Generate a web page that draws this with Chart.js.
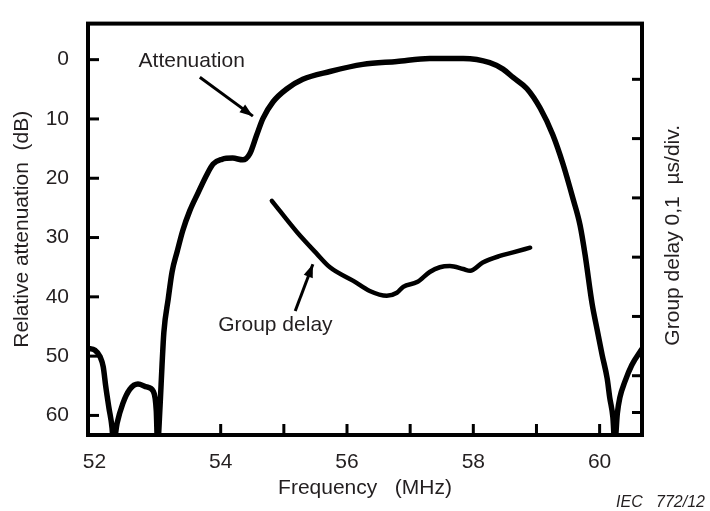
<!DOCTYPE html>
<html><head><meta charset="utf-8">
<script src="https://cdn.jsdelivr.net/npm/chart.js@4.4.1/dist/chart.umd.min.js"></script>
<style>html,body{margin:0;padding:0;background:#fff;}#wrap{width:710px;height:511px;}</style>
</head><body><div id="wrap"><canvas id="c" width="710" height="511"></canvas></div>
<script>
// Attenuation curve (MHz, dB)
const attFreq = [51.90,52.01,52.09,52.14,52.18,52.23,52.28,52.30,52.36,52.45,52.56,52.69,52.83,52.93,52.98,53.00,53.04,53.07,53.10,53.17,53.23,53.31,53.40,53.51,53.64,53.78,53.88,54.02,54.19,54.35,54.46,54.57,54.67,54.83,55.05,55.30,55.73,56.25,56.79,57.31,57.84,58.26,58.47,58.63,58.85,59.06,59.26,59.42,59.58,59.69,59.77,59.88,59.96,60.04,60.12,60.16,60.21,60.24,60.28,60.32,60.40,60.51,60.67];
const attDb   = [48.7,49.0,50.1,51.8,55.1,58.7,62.1,64.9,61.3,58.0,55.6,54.7,55.2,55.9,59.2,64.9,58.4,51.8,46.0,40.3,35.8,32.4,28.8,25.5,22.5,19.4,17.6,16.8,16.6,16.9,15.9,12.7,9.9,7.1,4.9,3.3,2.0,0.8,0.3,-0.2,-0.2,0.5,1.6,3.0,4.9,8.2,12.7,17.6,23.5,27.9,32.9,41.1,45.5,49.8,53.8,57.0,60.3,64.9,59.7,57.0,54.3,51.5,48.8];
// Group delay curve (MHz, microseconds)
const gdFreq  = [54.81,55.21,55.52,55.73,56.10,56.36,56.63,56.79,56.89,57.11,57.31,57.47,57.63,57.84,57.95,58.15,58.42,58.63,58.90];
const gdDelay = [0.395,0.342,0.306,0.283,0.260,0.243,0.235,0.240,0.250,0.258,0.275,0.283,0.285,0.280,0.277,0.291,0.302,0.308,0.316];
// Axis ticks
const xTickValues = [52,53,54,55,56,57,58,59,60];
const xLabelValues = [52,54,56,58,60];
const xMarkValues = [53,54,55,56,57,58,59,60];
const yTickValues = [0,10,20,30,40,50,60];
const y2TickValues = [0.038,0.1,0.2,0.3,0.4,0.5,0.6];

const FONT = '"Liberation Sans", Arial, Helvetica, sans-serif';
const TXT = '#231f20';

function arrow(ctx, x1, y1, x2, y2, head) {
  ctx.beginPath(); ctx.moveTo(x1, y1); ctx.lineTo(x2, y2); ctx.stroke();
  const ang = Math.atan2(y2 - y1, x2 - x1);
  ctx.beginPath();
  ctx.moveTo(x2, y2);
  ctx.lineTo(x2 - head * Math.cos(ang - 0.35), y2 - head * Math.sin(ang - 0.35));
  ctx.lineTo(x2 - head * Math.cos(ang + 0.35), y2 - head * Math.sin(ang + 0.35));
  ctx.closePath(); ctx.fill();
}

const decor = {
  id: 'decor',
  afterDatasetsDraw(chart) {
    const ctx = chart.ctx, a = chart.chartArea;
    const sx = chart.scales.x, sy = chart.scales.y, sy2 = chart.scales.y2;
    ctx.save();
    ctx.strokeStyle = '#000'; ctx.fillStyle = '#000'; ctx.lineCap = 'butt';
    ctx.lineWidth = 3;
    xMarkValues.forEach(v => { const p = sx.getPixelForValue(v); ctx.beginPath(); ctx.moveTo(p, a.bottom); ctx.lineTo(p, a.bottom - 11); ctx.stroke(); });
    yTickValues.forEach(v => { const p = sy.getPixelForValue(v); ctx.beginPath(); ctx.moveTo(a.left, p); ctx.lineTo(a.left + 11, p); ctx.stroke(); });
    y2TickValues.forEach(v => { const p = sy2.getPixelForValue(v); ctx.beginPath(); ctx.moveTo(a.right, p); ctx.lineTo(a.right - 10, p); ctx.stroke(); });
    ctx.lineWidth = 4;
    ctx.strokeRect(a.left, a.top, a.right - a.left, a.bottom - a.top);
    // annotations
    ctx.fillStyle = TXT;
    ctx.font = '21px ' + FONT;
    ctx.textAlign = 'left'; ctx.textBaseline = 'middle';
    ctx.fillText('Attenuation', sx.getPixelForValue(52.70), sy.getPixelForValue(0.3));
    ctx.fillText('Group delay', sx.getPixelForValue(53.96), sy.getPixelForValue(44.7));
    ctx.fillStyle = '#000'; ctx.lineWidth = 3;
    arrow(ctx, sx.getPixelForValue(53.67), sy.getPixelForValue(2.96), sx.getPixelForValue(54.51), sy.getPixelForValue(9.53), 14);
    arrow(ctx, sx.getPixelForValue(55.18), sy.getPixelForValue(42.4), sx.getPixelForValue(55.46), sy.getPixelForValue(34.5), 14);
    // right axis title (reads bottom to top)
    ctx.fillStyle = TXT;
    ctx.save();
    ctx.translate(a.right + 31, (a.top + a.bottom) / 2 + 6);
    ctx.rotate(-Math.PI / 2);
    ctx.textAlign = 'center'; ctx.textBaseline = 'middle';
    ctx.fillText('Group delay 0,1  \u00b5s/div.', 0, 0);
    ctx.restore();
    // figure reference
    ctx.font = 'italic 16px ' + FONT;
    ctx.textAlign = 'right'; ctx.textBaseline = 'alphabetic';
    ctx.fillText('IEC   772/12', chart.width - 5, chart.height - 4);
    ctx.restore();
  }
};

new Chart(document.getElementById('c'), {
  type: 'line',
  data: {
    datasets: [
      { label: 'Attenuation', data: attFreq.map((f, i) => ({ x: f, y: attDb[i] })), yAxisID: 'y',
        borderColor: '#000', borderWidth: 5.5, pointRadius: 0, fill: false, cubicInterpolationMode: 'monotone',
        borderCapStyle: 'round', borderJoinStyle: 'round' },
      { label: 'Group delay', data: gdFreq.map((f, i) => ({ x: f, y: gdDelay[i] })), yAxisID: 'y2',
        borderColor: '#000', borderWidth: 4.5, pointRadius: 0, fill: false, cubicInterpolationMode: 'monotone',
        borderCapStyle: 'round', borderJoinStyle: 'round' }
    ]
  },
  options: {
    responsive: false, animation: false, devicePixelRatio: 1,
    layout: { padding: { top: 13, left: 0, right: 0, bottom: 0 } },
    plugins: { legend: { display: false }, tooltip: { enabled: false } },
    scales: {
      x: {
        type: 'linear', position: 'bottom', min: 51.899, max: 60.671,
        afterBuildTicks: s => { s.ticks = xTickValues.map(v => ({ value: v })); },
        afterFit: s => { s.height = 76; },
        ticks: { autoSkip: false, maxRotation: 0, padding: 7, color: TXT, font: { family: FONT, size: 21 },
                 callback: v => xLabelValues.includes(v) ? String(v) : '' },
        grid: { display: false }, border: { display: false },
        title: { display: true, text: 'Frequency   (MHz)', color: TXT, font: { family: FONT, size: 21 }, padding: { top: 0, bottom: 10 } }
      },
      y: {
        type: 'linear', position: 'left', reverse: true, min: -6.08, max: 63.3,
        afterBuildTicks: s => { s.ticks = yTickValues.map(v => ({ value: v })); },
        afterFit: s => { s.width = 88; },
        ticks: { padding: 11, color: TXT, font: { family: FONT, size: 21 } },
        grid: { display: false }, border: { display: false },
        title: { display: true, text: 'Relative attenuation  (dB)', color: TXT, font: { family: FONT, size: 21 }, padding: { top: 10, bottom: 0 } }
      },
      y2: {
        type: 'linear', position: 'right', min: 0, max: 0.694,
        afterBuildTicks: s => { s.ticks = y2TickValues.map(v => ({ value: v })); },
        afterFit: s => { s.width = 68; },
        ticks: { display: false },
        grid: { display: false }, border: { display: false }
      }
    }
  },
  plugins: [decor]
});
</script>
</body></html>
